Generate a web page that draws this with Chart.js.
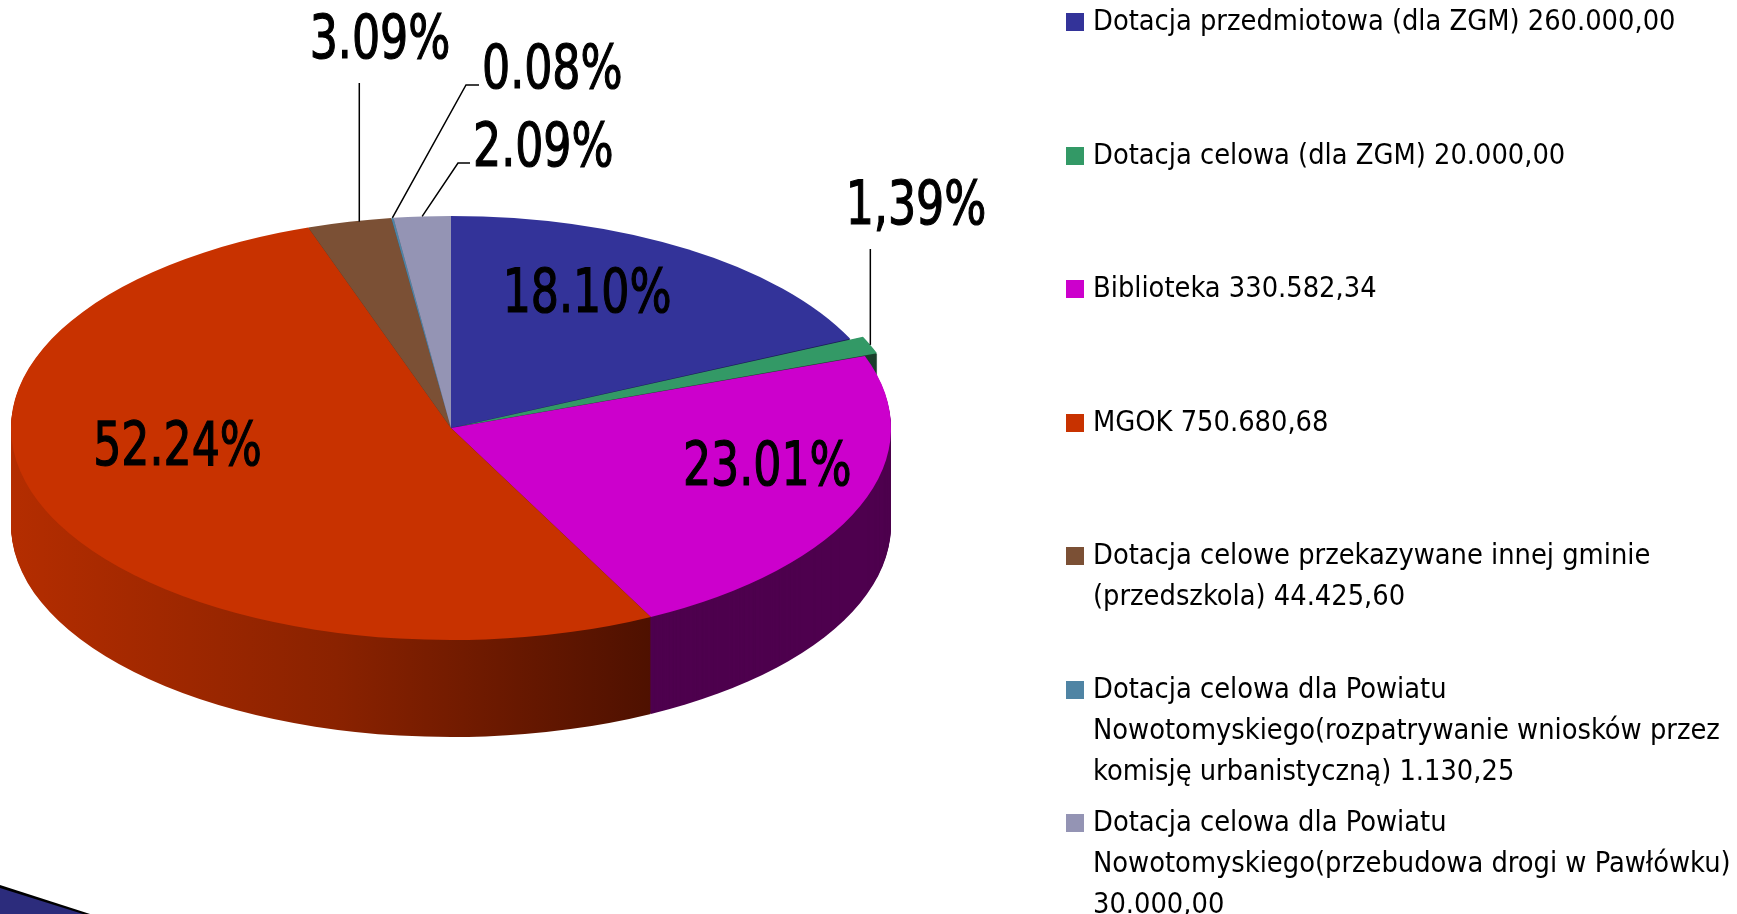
<!DOCTYPE html>
<html>
<head>
<meta charset="utf-8">
<script src="https://cdn.jsdelivr.net/npm/chart.js@4"></script>
<style>
  html, body { margin: 0; padding: 0; background: #fff; }
  #wrap { position: relative; width: 1737px; height: 914px; overflow: hidden; }
  #myChart { position: absolute; left: 0; top: 0; }
  .item { position: absolute; left: 1066px; white-space: nowrap; font-family: 'DejaVu Sans Condensed', 'DejaVu Sans', sans-serif; font-size: 28.7px; line-height: 41px; color: #000; }
  .box { position: absolute; left: 0; top: 13px; width: 18px; height: 18px; }
  .txt { position: absolute; left: 27px; top: 0; }
  #corner1 { position: absolute; left: 0; top: 885px; width: 90px; height: 29px; background: #000; clip-path: polygon(0 0, 100% 100%, 0 100%); }
  #corner2 { position: absolute; left: 0; top: 888px; width: 83px; height: 26px; background: #2c2c7c; clip-path: polygon(0 0, 100% 100%, 0 100%); }
</style>
</head>
<body>
<div id="wrap">
  <canvas id="myChart" width="1737" height="914"></canvas>
  <div id="legend"></div>
  <div id="corner1"></div>
  <div id="corner2"></div>
</div>
<script>
var categories = [
  ['Dotacja przedmiotowa (dla ZGM) 260.000,00'],
  ['Dotacja celowa (dla ZGM) 20.000,00'],
  ['Biblioteka 330.582,34'],
  ['MGOK 750.680,68'],
  ['Dotacja celowe przekazywane innej gminie', '(przedszkola) 44.425,60'],
  ['Dotacja celowa dla Powiatu', 'Nowotomyskiego(rozpatrywanie wniosków przez', 'komisję urbanistyczną) 1.130,25'],
  ['Dotacja celowa dla Powiatu', 'Nowotomyskiego(przebudowa drogi w Pawłówku)', '30.000,00']
];
var amounts = [260000, 20000, 330582.34, 750680.68, 44425.60, 1130.25, 30000];
var percentLabels = ['18.10%', '1,39%', '23.01%', '52.24%', '3.09%', '0.08%', '2.09%'];
var topColors = ['#333399', '#339966', '#cc00cc', '#c83200', '#7b5035', '#4f84a4', '#9494b4'];
var sideColors = ['#1c1c55', '#1a3f2b', '#4e004e', 'red-gradient', '#4a301f', '#2f4d60', '#5a5a70'];
var explode = [0, 28, 0, 0, 0, 0, 0];

// centre of the top face on screen, tilt and wall height
var cx = 451, cy = 428, tilt = 0.482, depth = 97;

// label layout: inside labels get a nudge, outside ones a leader line
var labelLayout = [
  { inside: true, f: 0.68, dx: -25, dy: -10 },
  { inside: false, tx: 916, ty: 208, align: 'center', path: 'up', end: 249 },
  { inside: true, f: 0.68, dx: 38, dy: -12 },
  { inside: true, f: 0.68, dx: 2, dy: -35 },
  { inside: false, tx: 380, ty: 42, align: 'center', path: 'up', end: 83, nx: 10 },
  { inside: false, tx: 482, ty: 72, align: 'left', path: 'elbow', ex: 466, ey: 85 },
  { inside: false, tx: 473, ty: 150, align: 'left', path: 'elbow', ex: 458, ey: 163 }
];

function shift(arc) {
  var off = (arc.options.offset || 0) / 4;
  var circ = arc.endAngle - arc.startAngle;
  var fix = 1 - Math.sin(Math.min(Math.PI, circ));
  var s = off * (1 + fix);
  var h = (arc.startAngle + arc.endAngle) / 2;
  return { x: Math.cos(h) * s, y: Math.sin(h) * s * tilt };
}

function narrowText(ctx, text, x, y) {
  ctx.save();
  ctx.translate(x, y);
  ctx.scale(0.82, 1);
  ctx.lineWidth = 1.2;
  ctx.strokeText(text, 0, 0);
  ctx.fillText(text, 0, 0);
  ctx.restore();
}

var pie3d = {
  id: 'pie3d',
  beforeDatasetsDraw: function (chart) {
    var ctx = chart.ctx;
    var arcs = chart.getDatasetMeta(0).data;
    var rx = arcs[0].outerRadius, ry = rx * tilt;
    var grad = ctx.createLinearGradient(cx - rx, 0, cx + rx * 0.48, 0);
    grad.addColorStop(0, '#b42d00');
    grad.addColorStop(0.5, '#8a2200');
    grad.addColorStop(1, '#4c1000');
    for (var d = depth; d > 0; d--) {
      arcs.forEach(function (arc, i) {
        var o = shift(arc);
        ctx.beginPath();
        ctx.moveTo(cx + o.x, cy + o.y + d);
        ctx.ellipse(cx + o.x, cy + o.y + d, rx, ry, 0, arc.startAngle, arc.endAngle);
        ctx.closePath();
        ctx.fillStyle = sideColors[i] === 'red-gradient' ? grad : sideColors[i];
        ctx.fill();
      });
    }
    ctx.save();
    ctx.translate(cx, cy);
    ctx.scale(1, tilt);
    ctx.translate(-arcs[0].x, -arcs[0].y);
  },
  afterDatasetsDraw: function (chart) {
    var ctx = chart.ctx;
    ctx.restore();
    var arcs = chart.getDatasetMeta(0).data;
    ctx.save();
    ctx.font = '60px "DejaVu Sans Condensed", "DejaVu Sans", sans-serif';
    ctx.fillStyle = '#000';
    ctx.strokeStyle = '#000';
    ctx.textBaseline = 'middle';
    arcs.forEach(function (arc, i) {
      var p = labelLayout[i];
      var h = (arc.startAngle + arc.endAngle) / 2;
      var o = shift(arc);
      var R = arc.outerRadius;
      if (p.inside) {
        ctx.textAlign = 'center';
        narrowText(ctx, percentLabels[i], cx + o.x + Math.cos(h) * R * p.f + p.dx, cy + o.y + Math.sin(h) * R * tilt * p.f + p.dy);
        return;
      }
      var ax = cx + o.x + Math.cos(h) * R + (p.nx || 0);
      var ay = cy + o.y + Math.sin(h) * R * tilt;
      ctx.beginPath();
      ctx.lineWidth = 1.5;
      ctx.moveTo(ax, ay);
      if (p.path === 'up') {
        ctx.lineTo(ax, p.end);
      } else {
        ctx.lineTo(p.ex, p.ey);
        ctx.lineTo(p.tx - 3, p.ey);
      }
      ctx.stroke();
      ctx.textAlign = p.align;
      narrowText(ctx, percentLabels[i], p.tx, p.ty);
    });
    ctx.restore();
  }
};

var ctx = document.getElementById('myChart').getContext('2d');
var myChart = new Chart(ctx, {
  type: 'pie',
  data: {
    labels: categories.map(function (c) { return c.join(' '); }),
    datasets: [{
      data: amounts,
      backgroundColor: topColors,
      borderWidth: 0,
      offset: explode,
      radius: 440,
      clip: false
    }]
  },
  options: {
    responsive: false,
    animation: false,
    events: [],
    layout: { padding: 0 },
    plugins: {
      legend: { display: false },
      tooltip: { enabled: false }
    }
  },
  plugins: [pie3d]
});

// legend on the right, one entry every 133.5px
var legend = document.getElementById('legend');
categories.forEach(function (lines, i) {
  var item = document.createElement('div');
  item.className = 'item';
  item.style.top = Math.round(133.5 * i) + 'px';
  var box = document.createElement('div');
  box.className = 'box';
  box.style.background = topColors[i];
  var txt = document.createElement('div');
  txt.className = 'txt';
  txt.innerHTML = lines.join('<br>');
  item.appendChild(box);
  item.appendChild(txt);
  legend.appendChild(item);
});
</script>
</body>
</html>
